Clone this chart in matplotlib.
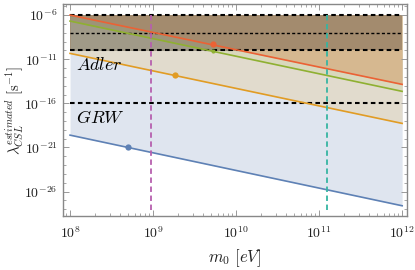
import numpy as np
import matplotlib
matplotlib.use("Agg")
import matplotlib.pyplot as plt
from matplotlib.patches import Rectangle
from matplotlib.ticker import FixedLocator, LogLocator, NullFormatter

plt.rcParams['mathtext.fontset'] = 'cm'
plt.rcParams['font.family'] = ['DejaVu Serif']

# ---- data ----
m_range = [1e8, 1e12]                       # eV, line endpoints
lam_blue = [10**-19.6, 10**-27.6]
lam_orange = [10**-10.34, 10**-18.27]
lam_green = [10**-6.68, 10**-14.64]
lam_red = [10**-6.0, 10**-13.85]

marker_m = [10**8.695, 10**9.265, 10**9.72, 10**9.72]
marker_lam = [10**-21.0, 10**-12.84, 10**-9.3, 10**-10.12]

adler_band = [1e-10, 1e-6]
hlines = [1e-6, 1e-8, 1e-10, 1e-16]
vline_proton = 9.38e8
vline_higgs = 1.25e11
vline_span = [10**-28.1, 10**-5.7]

xticks = [1e8, 1e9, 1e10, 1e11, 1e12]
yticks = [1e-6, 1e-11, 1e-16, 1e-21, 1e-26]

# colours
c_blue, c_orange, c_green, c_red = '#5E81B5', '#E19C24', '#8FB032', '#EB6235'
f_blue, f_beige, f_green, f_tan = '#dfe5ef', '#e1dbcd', '#d9d8bd', '#d6b890'
b_top, b_mid, b_low = '#a38b6e', '#9d9478', '#a09a88'

fig = plt.figure(figsize=(4.15, 2.7), dpi=100)
ax = fig.add_axes([0.152, 0.2, 0.829, 0.785])
ax.set_xscale('log')
ax.set_yscale('log')
ax.set_xlim(10**7.916, 10**12.06)
ax.set_ylim(10**-28.76, 10**-4.75)

top = adler_band[1]
ax.fill_between(m_range, lam_blue, top, color=f_blue, lw=0, zorder=1)
ax.fill_between(m_range, lam_orange, top, color=f_beige, lw=0, zorder=1.1)
ax.fill_between(m_range, lam_green, top, color=f_green, lw=0, zorder=1.2)
ax.fill_between(m_range, lam_red, top, color=f_tan, lw=0, zorder=1.3)

band = Rectangle((m_range[0], adler_band[0]), m_range[1] - m_range[0],
                 adler_band[1] - adler_band[0], transform=ax.transData,
                 facecolor=b_top, edgecolor='none', zorder=1.4)
ax.add_patch(band)
p1 = ax.fill_between(m_range, lam_green, lam_red, color=b_mid, lw=0, zorder=1.5)
p1.set_clip_path(band)
p2 = ax.fill_between(m_range, 1e-30, lam_green, color=b_low, lw=0, zorder=1.5)
p2.set_clip_path(band)

for y in hlines:
    lw = 1.0 if y == 1e-8 else 1.5
    ax.plot(m_range, [y, y], color='black', lw=lw, dashes=(2.2, 1.6), zorder=3)

ax.plot(m_range, lam_blue, color=c_blue, lw=1.2, zorder=4)
ax.plot(m_range, lam_orange, color=c_orange, lw=1.2, zorder=4)
ax.plot(m_range, lam_green, color=c_green, lw=1.2, zorder=4)
ax.plot(m_range, lam_red, color=c_red, lw=1.2, zorder=4)

ax.plot([vline_proton] * 2, vline_span, color='#b65fae', lw=1.3, dashes=(3, 2), zorder=5)
ax.plot([vline_higgs] * 2, vline_span, color='#36b5a2', lw=1.3, dashes=(3, 2), zorder=5)

mcols = [c_blue, c_orange, c_red, c_green]
msizes = [4.5, 4.5, 4.5, 3.0]
for mx, my, mc, ms in zip(marker_m, marker_lam, mcols, msizes):
    ax.plot([mx], [my], 'o', color=mc, ms=ms, mec='none', zorder=6)

ax.text(10**8.07, 10**-11.66, r'$Adler$', fontsize=13, va='center', ha='left', zorder=7)
ax.text(10**8.07, 10**-17.66, r'$GRW$', fontsize=13, va='center', ha='left', zorder=7)

ax.yaxis.set_major_locator(FixedLocator(yticks))
ax.yaxis.set_minor_locator(FixedLocator([10.0**k for k in range(-28, -4)]))
ax.yaxis.set_minor_formatter(NullFormatter())
ax.set_yticklabels([r'$10^{%d}$' % int(round(np.log10(v))) for v in yticks])
ax.xaxis.set_major_locator(FixedLocator(xticks))
ax.xaxis.set_minor_locator(LogLocator(base=10, subs=np.arange(2, 10)))
ax.xaxis.set_minor_formatter(NullFormatter())
ax.set_xticklabels([r'$10^{%d}$' % int(round(np.log10(v))) for v in xticks])

ax.tick_params(which='both', direction='in', top=True, right=True, color='#999999',
               labelsize=10, labelcolor='#222222')
ax.tick_params(which='major', length=4, width=0.7, pad=4)
ax.tick_params(axis='x', which='major', pad=7)
ax.tick_params(which='minor', length=2, width=0.6)
for s in ax.spines.values():
    s.set_color('#888888')
    s.set_linewidth(1.0)

ax.set_xlabel(r'$m_0\ [eV]$', fontsize=12, color='#222222', labelpad=4)
ax.set_ylabel(r'$\lambda_{CSL}^{estimated}\ [\mathrm{s}^{-1}]$', fontsize=10.5,
              color='#222222')
ax.yaxis.set_label_coords(-0.108, 0.5)

fig.savefig('out.png', dpi=100)
